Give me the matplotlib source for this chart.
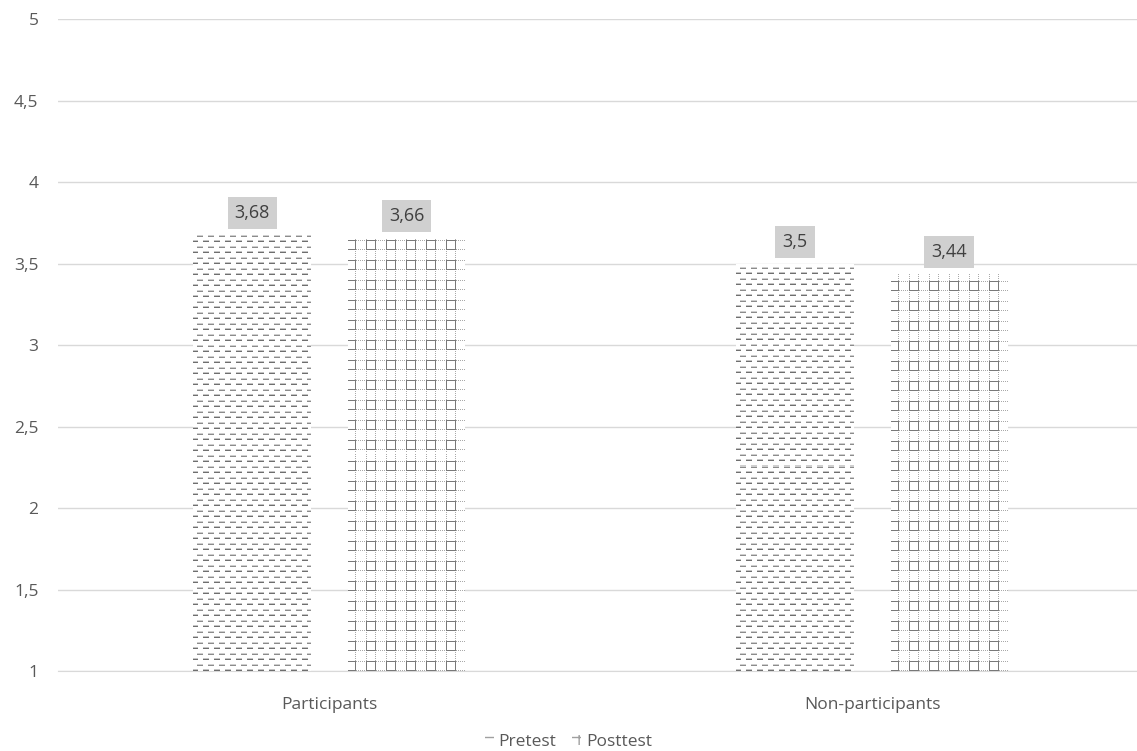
import numpy as np
import matplotlib
matplotlib.use("Agg")
import matplotlib.pyplot as plt
from matplotlib.patches import Patch
from matplotlib.ticker import FuncFormatter

plt.rcParams['font.family'] = ['Open Sans', 'DejaVu Sans']

groups = ['Participants', 'Non-participants']
series = ['Pretest', 'Posttest']
pretest = [3.68, 3.50]
posttest = [3.66, 3.44]

text_col = '#595959'
grid_col = '#d9d9d9'


def dash_tile():
    # rows of short gray dashes, offset every other row
    t = np.zeros((11, 11))
    t[0, 1:7] = 0.75
    t[1, 1:7] = 0.3
    t[5, 6:11] = 0.6
    t[5, 0:1] = 0.6
    t[6, 6:11] = 0.25
    t[6, 0:1] = 0.25
    return t


def grid_tile():
    # dotted grid lines at uneven spacing, darker edges make small squares
    t = np.zeros((20, 20))
    t[0, ::2] = 0.45
    t[9, ::2] = 0.45
    t[::2, 0] = 0.45
    t[::2, 9] = 0.45
    t[0, 0:10] = 0.7
    t[9, 0:10] = 0.7
    t[0:10, 0] = 0.7
    t[0:10, 9] = 0.7
    return t


def fill_pattern(ax, bar, tile):
    x0, y0 = bar.get_x(), bar.get_y()
    x1, y1 = x0 + bar.get_width(), y0 + bar.get_height()
    (px0, py0), (px1, py1) = ax.transData.transform([(x0, y0), (x1, y1)])
    w, h = int(round(px1 - px0)), int(round(py1 - py0))
    th, tw = tile.shape
    a = np.tile(tile, (h // th + 2, w // tw + 2))[:h, 2:w + 2]
    img = np.zeros((h, w, 4))
    img[..., :3] = 0.25
    img[..., 3] = a
    im = ax.imshow(img, extent=(x0, x1, y1, y0), origin='upper', aspect='auto',
                   interpolation='nearest', zorder=3)
    im.set_clip_path(bar)


fig = plt.figure(figsize=(11.37, 7.51), dpi=100)
ax = fig.add_axes([0.051, 0.1065, 0.955, 0.868])
ax.set_xlim(-0.5, 1.5)
ax.set_ylim(1, 5)

x = np.arange(len(groups))
w = 0.217
off = 0.142
b1 = ax.bar(x - off, np.array(pretest) - 1, w, bottom=1, color='white', linewidth=0, zorder=2)
b2 = ax.bar(x + off, np.array(posttest) - 1, w, bottom=1, color='white', linewidth=0, zorder=2)

ax.set_yticks(np.arange(1, 5.01, 0.5))
ax.yaxis.set_major_formatter(FuncFormatter(lambda v, p: f'{v:g}'.replace('.', ',')))
ax.set_xticks(x)
ax.set_xticklabels(groups)
ax.grid(axis='y', color=grid_col, linewidth=1, zorder=0)
ax.set_axisbelow(True)
for s in ['top', 'right', 'left']:
    ax.spines[s].set_visible(False)
ax.spines['bottom'].set_color(grid_col)
ax.tick_params(length=0, labelsize=12.5, colors=text_col)
ax.tick_params(axis='x', pad=19)
ax.tick_params(axis='y', pad=14)

for bars, tile in [(b1, dash_tile()), (b2, grid_tile())]:
    for b in bars:
        fill_pattern(ax, b, tile)

ax.set_xlim(-0.5, 1.5)
ax.set_ylim(1, 5)

for bars, vals in [(b1, pretest), (b2, posttest)]:
    for b, v in zip(bars, vals):
        ax.annotate(f'{v:g}'.replace('.', ','), (b.get_x() + b.get_width() / 2, v),
                    xytext=(0, 9), textcoords='offset points', ha='center', va='bottom',
                    fontsize=13, color='#404040', zorder=5,
                    bbox=dict(boxstyle='square,pad=0.4', fc='#d0d0d0', ec='none'))

handles = [Patch(facecolor='white', edgecolor='#a0a0a0', hatch='--', linewidth=0),
           Patch(facecolor='white', edgecolor='#a0a0a0', hatch='++', linewidth=0)]
fig.legend(handles, series, loc='lower center', bbox_to_anchor=(0.5, -0.02), ncol=2,
           frameon=False, fontsize=12.5, handlelength=0.5, handleheight=0.5,
           handletextpad=0.3, columnspacing=0.9, labelcolor=text_col)

fig.savefig('out.png', dpi=100)
